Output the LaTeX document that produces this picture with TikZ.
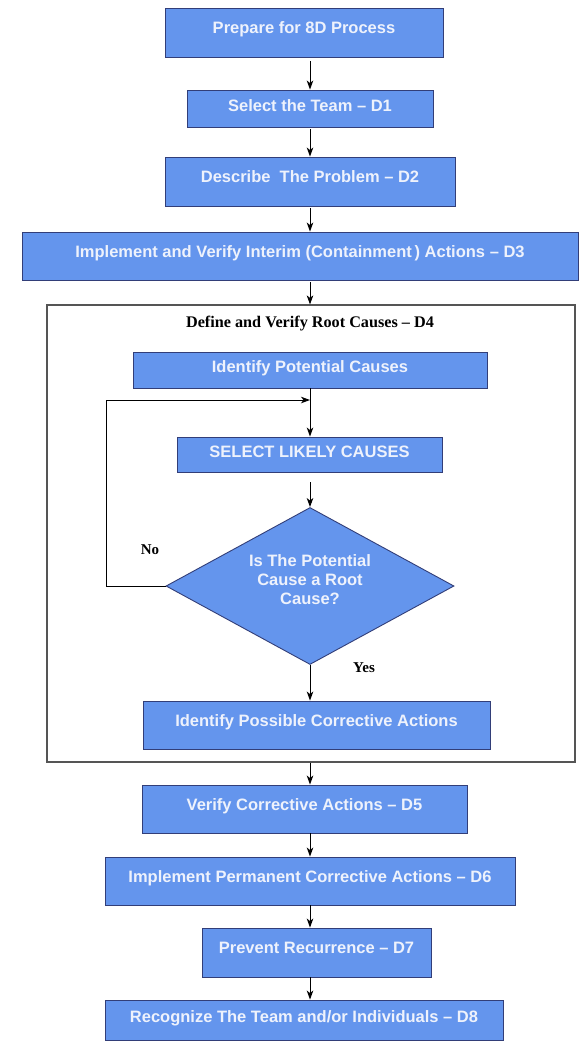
\documentclass[tikz,border=0pt]{standalone}
\usepackage{fontspec}
\newfontfamily\sansf{Liberation Sans}
\newfontfamily\seriff{Liberation Serif}
\usetikzlibrary{shapes.geometric,arrows.meta}
\definecolor{bfill}{RGB}{100,149,237}
\definecolor{bline}{RGB}{50,62,120}
\definecolor{btext}{RGB}{238,242,252}
\definecolor{frameline}{RGB}{85,85,85}
\begin{document}
\begin{tikzpicture}[x=1pt,y=-1pt,
  box/.style={draw=bline,fill=bfill,line width=0.9pt,inner sep=0pt,text=btext,
    font=\sansf\bfseries\fontsize{16.5}{19}\selectfont,text height=12pt,text depth=10pt},
  arr/.style={draw=black,line width=0.9pt,-{Stealth[length=9pt,width=6.5pt,inset=2.5pt]}},
  lbl/.style={font=\seriff\bfseries\fontsize{15}{18}\selectfont,text=black,inner sep=0pt},
  frm/.style={draw=frameline,line width=1.2pt,inner sep=0pt}
  ]
\useasboundingbox (0,0) rectangle (580,1045);
\fill[white] (0,0) rectangle (580,1045);

\coordinate (ax) at (310,0);
\coordinate (loopL) at (106,0);
\coordinate (loopY) at (0,400);

\node[box,minimum width=278pt,minimum height=49pt] (p) at (304,32.5) {Prepare for 8D Process};
\node[box,minimum width=246pt,minimum height=37pt,text depth=7pt] (d1) at (310,108.5) {Select the Team – D1};
\node[box,minimum width=290pt,minimum height=49pt] (d2) at (310,181.5) {Describe\ \ The Problem – D2};
\node[box,minimum width=556pt,minimum height=48pt] (d3) at (300,256) {Implement and Verify Interim (Containment\,) Actions – D3};

\node[frm,minimum width=528pt,minimum height=457pt] (frame) at (311,533.5) {};
\node[lbl,font=\seriff\bfseries\fontsize{16.2}{19}\selectfont] (title) at (310,323.5) {Define and Verify Root Causes – D4};

\node[box,minimum width=354pt,minimum height=36pt,text depth=7pt] (ipc) at (310,370) {Identify Potential Causes};
\node[box,minimum width=265pt,minimum height=35pt,text depth=7pt] (slc) at (309.5,454.5) {SELECT LIKELY CAUSES};
\node[diamond,draw=bline,fill=bfill,line width=0.9pt,inner sep=0pt,shape aspect=1.83,
  minimum width=288pt,minimum height=157pt,text=btext,align=center,
  font=\sansf\bfseries\fontsize{16.5}{19}\selectfont] (dia) at (310,586)
  {Is The Potential\\Cause a Root\\Cause?\rule[-12pt]{0pt}{12pt}};
\node[box,minimum width=347pt,minimum height=48pt] (ipa) at (316.5,725) {Identify Possible Corrective Actions};

\node[box,minimum width=325pt,minimum height=48pt] (d5) at (304.5,809) {Verify Corrective Actions – D5};
\node[box,minimum width=410pt,minimum height=48pt] (d6) at (310,881) {Implement Permanent Corrective Actions – D6};
\node[box,minimum width=229pt,minimum height=49pt] (d7) at (316.5,952.5) {Prevent Recurrence – D7};
\node[box,minimum width=398pt,minimum height=40pt,text depth=7pt] (d8) at (304,1020) {Recognize The Team and/or Individuals – D8};

\node[lbl] (no) at (150,550) {No};
\node[lbl] (yes) at (364,668) {Yes};

\draw[arr,shorten <=4pt] (p.south -| ax) -- (d1.north -| ax);
\draw[arr,shorten <=2pt] (d1.south -| ax) -- (d2.north -| ax);
\draw[arr,shorten <=2pt] (d2.south -| ax) -- (d3.north -| ax);
\draw[arr,shorten <=2pt] (d3.south -| ax) -- (frame.north -| ax);
\draw[arr] (ipc.south -| ax) -- (slc.north -| ax);
\draw[arr,shorten <=10pt] (slc.south -| ax) -- (dia.north);
\draw[arr] (dia.south) -- (ipa.north -| ax);
\draw[arr] (dia.west) -- (dia.west -| loopL) -- (loopL |- loopY) -- (ax |- loopY);
\draw[arr] (frame.south -| ax) -- (d5.north -| ax);
\draw[arr] (d5.south -| ax) -- (d6.north -| ax);
\draw[arr] (d6.south -| ax) -- (d7.north -| ax);
\draw[arr] (d7.south -| ax) -- (d8.north -| ax);
\end{tikzpicture}
\end{document}
